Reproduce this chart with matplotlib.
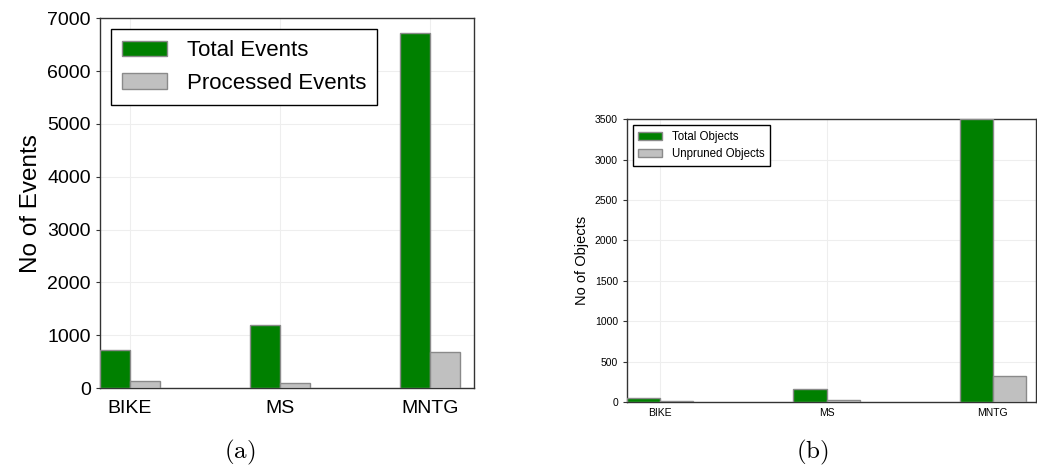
import numpy as np
import matplotlib
matplotlib.use("Agg")
import matplotlib.pyplot as plt

plt.rcParams['font.family'] = ['Liberation Sans', 'DejaVu Sans']
plt.rcParams['mathtext.fontset'] = 'cm'

# data
datasets = ["BIKE", "MS", "MNTG"]
total_events = [720, 1200, 6720]
processed_events = [140, 90, 690]
total_objects = [45, 165, 3500]
unpruned_objects = [10, 20, 320]

green = "#008000"
grey = "#c0c0c0"
edge = "#8a8a8a"
width = 0.2

fig = plt.figure(figsize=(10.37, 4.67), dpi=100)
ax1 = fig.add_axes([0.0964, 0.169, 0.3606, 0.792])
ax2 = fig.add_axes([0.6046, 0.139, 0.3945, 0.606])


def draw(ax, first, second, names, fs_tick, fs_label, fs_leg, ylabel, ymax, yticks):
    x = np.arange(len(datasets))
    ax.bar(x - width / 2, first, width, color=green, edgecolor=edge, linewidth=1,
           label=names[0], zorder=3)
    ax.bar(x + width / 2, second, width, color=grey, edgecolor=edge, linewidth=1,
           label=names[1], zorder=3)
    ax.set_xticks(x)
    ax.set_xticklabels(datasets, fontsize=fs_tick)
    ax.set_yticks(yticks)
    ax.tick_params(axis='y', labelsize=fs_tick, length=3, width=0.8, color="#333333")
    ax.tick_params(axis='x', length=0, pad=fs_tick * 0.6)
    ax.set_ylim(0, ymax)
    ax.set_ylabel(ylabel, fontsize=fs_label)
    ax.grid(True, color="#eeeeee", linewidth=0.8, zorder=0)
    for s in ax.spines.values():
        s.set_color("#333333")
        s.set_linewidth(1.0)
    leg = ax.legend(loc="upper left", fontsize=fs_leg, fancybox=False,
                    edgecolor="black", framealpha=1, handlelength=2.0,
                    handletextpad=0.9, borderpad=0.5)
    leg.get_frame().set_linewidth(1.0)
    return leg


draw(ax1, total_events, processed_events, ["Total Events", "Processed Events"],
     14, 17.5, 16, "No of Events", 7000, range(0, 7001, 1000))
ax1.set_xlim(-0.2, 2.29)

draw(ax2, total_objects, unpruned_objects, ["Total Objects", "Unpruned Objects"],
     7.5, 10.5, 8.3, "No of Objects", 3500, range(0, 3501, 500))
ax2.set_xlim(-0.2, 2.26)

fig.text(0.2315, 0.032, r"$\mathrm{(a)}$", fontsize=18, ha="center", va="center")
fig.text(0.783, 0.032, r"$\mathrm{(b)}$", fontsize=18, ha="center", va="center")

fig.savefig("out.png", dpi=100)
